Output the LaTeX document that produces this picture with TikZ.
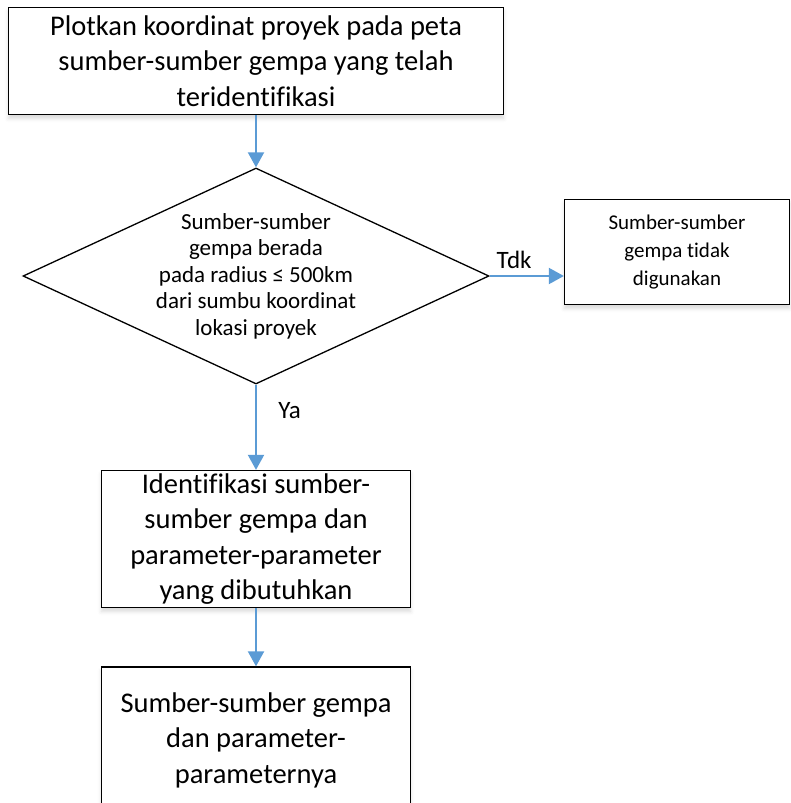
\documentclass[tikz,border=0pt]{standalone}
\usepackage{fontspec}
\setmainfont[Ligatures=NoCommon]{Carlito}
\usetikzlibrary{shapes.geometric, arrows.meta, shadows.blur}
\definecolor{flowblue}{HTML}{5B9BD5}

\begin{document}
\begin{tikzpicture}[x=1pt, y=1pt, >={Triangle[length=15pt, width=16pt]},
    box/.style={draw, line width=1.3pt, fill=white, align=center, inner sep=0pt,
      blur shadow={shadow xshift=0pt, shadow yshift=-4pt, shadow opacity=15, shadow blur radius=4pt}},
    decision/.style={draw, diamond, line width=1.3pt, fill=white, inner sep=0pt,
      minimum width=466pt, minimum height=216pt, aspect=2.16},
    flow/.style={->, color=flowblue, line width=2pt},
    big/.style={font=\fontsize{28.5}{35.5}\selectfont},
    mid/.style={font=\fontsize{23}{26.5}\selectfont},
    side/.style={font=\fontsize{21}{28}\selectfont},
    lbl/.style={font=\fontsize{25}{30}\selectfont, text=black}]
  \useasboundingbox (0,0) rectangle (791,-803);
  \clip (0,0) rectangle (791,-803);

  \node[box, big, minimum width=495pt, minimum height=107pt] (plot) at (256,-61)
    {Plotkan koordinat proyek pada peta\\sumber-sumber gempa yang telah\\teridentifikasi};
  \node[decision] (check) at (256,-276) {};
  \node[mid, align=center] (checktext) at (check)
    {Sumber-sumber\\gempa berada\\pada radius ≤ 500km\\dari sumbu koordinat\\lokasi proyek};
  \node[box, side, minimum width=225pt, minimum height=105pt] (unused) at (677,-252)
    {Sumber-sumber\\gempa tidak\\digunakan};
  \node[box, big, minimum width=309pt, minimum height=137pt] (ident) at (256,-539)
    {Identifikasi sumber-\\sumber gempa dan\\parameter-parameter\\yang dibutuhkan};
  \node[box, big, minimum width=309pt, minimum height=146pt] (result) at (256,-740)
    {Sumber-sumber gempa\\dan parameter-\\parameternya};

  \path[flow] (plot) edge (check);
  \draw[flow] (check.east) -- node[lbl, above=3pt, pos=0.33] {Tdk} (check.east -| unused.west);
  \path[flow] (check) edge node[lbl, right=18pt, pos=0.3] {Ya} (ident);
  \path[flow] (ident) edge (result);
\end{tikzpicture}
\end{document}
